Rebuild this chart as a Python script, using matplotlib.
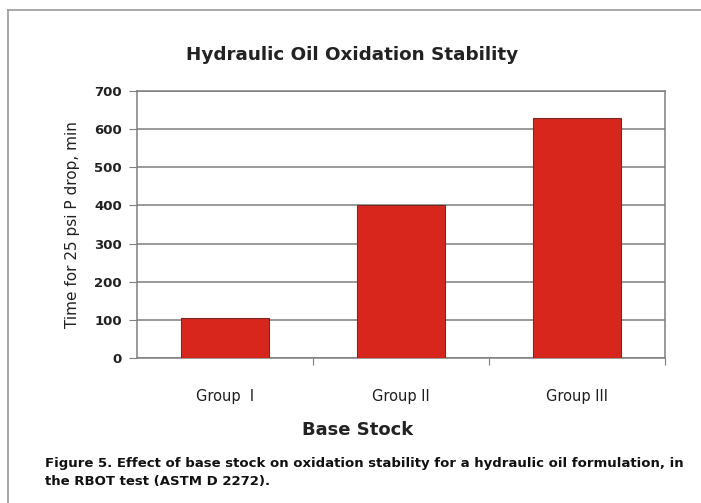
import matplotlib
matplotlib.use("Agg")
import matplotlib.pyplot as plt
from matplotlib.lines import Line2D

groups = ["Group  I", "Group II", "Group III"]
minutes = [105, 400, 628]
yticks = [0, 100, 200, 300, 400, 500, 600, 700]

W, H = 701, 503
fig = plt.figure(figsize=(W / 100, H / 100), dpi=100)
fig.patch.set_facecolor("white")

# frame around the chart (only left/top visible in the crop)
fig.add_artist(Line2D([8 / W, 8 / W], [0, 1 - 10 / H], transform=fig.transFigure,
                      color="#9a9a9a", lw=1.2))
fig.add_artist(Line2D([8 / W, 1], [1 - 10 / H, 1 - 10 / H], transform=fig.transFigure,
                      color="#9a9a9a", lw=1.2))

ax = fig.add_axes([137 / W, 1 - 358 / H, (665 - 137) / W, (358 - 91) / H])
x = range(len(groups))
ax.bar(x, minutes, width=0.5, color="#d8261d", edgecolor="#7a2a22", linewidth=0.8, zorder=3)
ax.set_xlim(-0.5, 2.5)
ax.set_ylim(0, 700)
ax.set_yticks(yticks)
ax.set_yticklabels([str(v) for v in yticks], fontsize=9.5, fontweight="bold", color="#222222")
ax.yaxis.grid(True, color="#7f7f7f", lw=1.1, zorder=0)
ax.set_axisbelow(True)
for s in ax.spines.values():
    s.set_color("#7f7f7f")
    s.set_linewidth(1.1)
ax.tick_params(axis="y", length=6, color="#7f7f7f", pad=5)

# category labels centred on bars, ticks on the boundaries
ax.set_xticks([0.5, 1.5, 2.5])
ax.set_xticklabels([])
ax.tick_params(axis="x", length=5, color="#7f7f7f")
for i, g in enumerate(groups):
    ax.text(i, -38 / 267, g, transform=ax.get_xaxis_transform(), ha="center", va="center",
            fontsize=10.5, color="#1e1e1e")

ax.set_ylabel("Time for 25 psi P drop, min", fontsize=11, color="#222222", labelpad=10)

fig.text(352 / W, 1 - 55 / H, "Hydraulic Oil Oxidation Stability", ha="center", va="center",
         fontsize=13.2, fontweight="bold", color="#222222")
fig.text(358 / W, 1 - 430 / H, "Base Stock", ha="center", va="center",
         fontsize=13, fontweight="bold", color="#222222")
fig.text(45 / W, 1 - 464 / H,
         "Figure 5. Effect of base stock on oxidation stability for a hydraulic oil formulation, in",
         ha="left", va="center", fontsize=9.5, fontweight="bold", color="#111111")
fig.text(45 / W, 1 - 482 / H, "the RBOT test (ASTM D 2272).",
         ha="left", va="center", fontsize=9.5, fontweight="bold", color="#111111")

fig.savefig("out.png", dpi=100)
